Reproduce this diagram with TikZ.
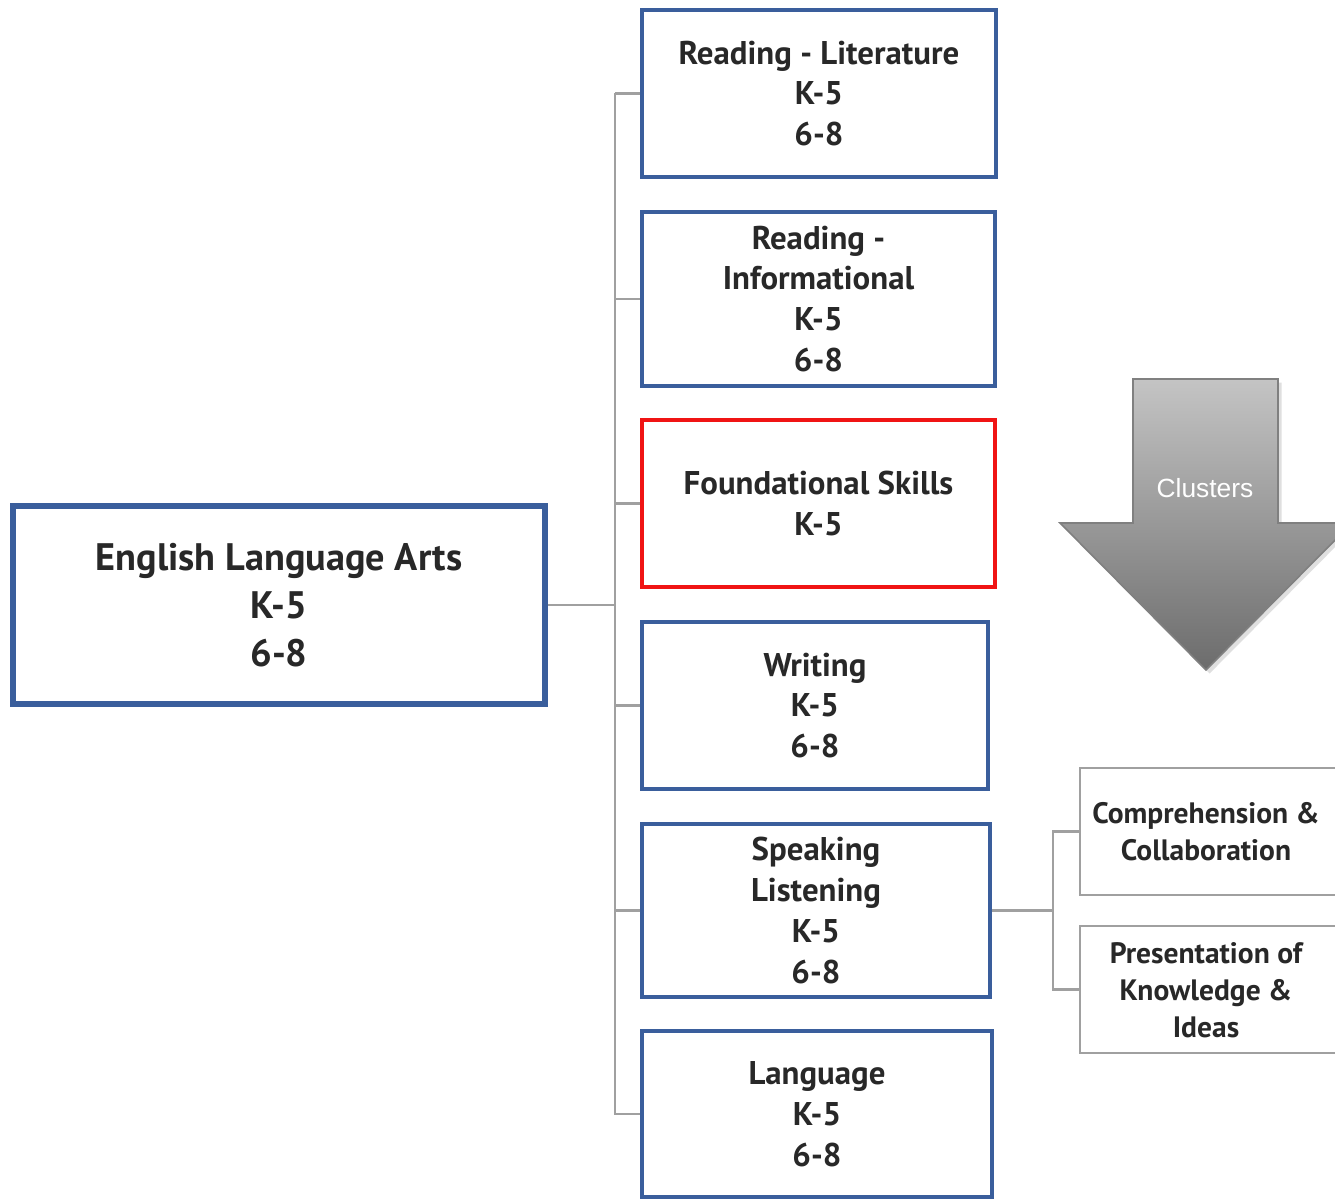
\documentclass[tikz,border=0pt]{standalone}
\usepackage{fontspec}
\setmainfont{PT Sans}
\newfontfamily\arialf{Liberation Sans}
\usetikzlibrary{shadows}
\definecolor{boxblue}{RGB}{58,94,156}
\definecolor{boxred}{RGB}{240,20,20}
\definecolor{conngray}{RGB}{160,160,160}
\definecolor{txtgray}{RGB}{40,40,40}
\definecolor{arrowtop}{RGB}{196,196,196}
\definecolor{arrowbot}{RGB}{108,108,108}
\definecolor{arrowedge}{RGB}{128,128,128}
\begin{document}
\begin{tikzpicture}[x=0.02cm,y=-0.02cm,
  mainbox/.style={draw=boxblue,line width=3.4pt,align=center,text=txtgray,
     font=\bfseries\fontsize{21.8}{27.5}\selectfont,minimum width=10.64cm,minimum height=3.96cm,inner sep=0pt},
  subbox/.style={draw=boxblue,line width=2.3pt,align=center,text=txtgray,
     font=\bfseries\fontsize{18.7}{23.3}\selectfont,minimum height=3.34cm,inner sep=0pt},
  redbox/.style={subbox,draw=boxred},
  clbox/.style={draw=conngray,line width=1.2pt,minimum width=5.3cm,minimum height=2.54cm,inner sep=0pt},
  cltext/.style={align=center,text=txtgray,font=\bfseries\fontsize{16.8}{21}\selectfont},
  conn/.style={draw=conngray,line width=1.2pt}]
\clip (0,0) rectangle (1335,1200);
\fill[white] (0,0) rectangle (1335,1200);

% main box
\node[mainbox] (ela) at (279,605) {English Language Arts\\K-5\\6-8};

% sub boxes
\node[subbox,minimum width=7.08cm] (rl) at (819,93.5) {Reading - Literature\\K-5\\6-8};
\node[subbox,minimum width=7.06cm,minimum height=3.48cm] (ri) at (818.5,299) {Reading -\\Informational\\K-5\\6-8};
\node[redbox,minimum width=7.06cm] (fs) at (818.5,503.5) {Foundational Skills\\K-5};
\node[subbox,minimum width=6.92cm] (wr) at (815,705.5) {Writing\\K-5\\6-8};
\node[subbox,minimum width=6.96cm,minimum height=3.46cm] (sl) at (816,910.5) {Speaking\\Listening\\K-5\\6-8};
\node[subbox,minimum width=7.0cm,minimum height=3.32cm] (la) at (817,1114) {Language\\K-5\\6-8};

% cluster boxes
\node[clbox] (cc) at (1212.5,831.5) {};
\node[cltext] (cct) at (1206,831.5) {Comprehension \&\\Collaboration};
\node[clbox] (pk) at (1212.5,989.5) {};
\node[cltext] (pkt) at (1206,990) {Presentation of\\Knowledge \&\\Ideas};

% connectors
\coordinate (ttop) at (615,93);
\coordinate (tbot) at (615,1115);
\draw[conn] (ttop) -- (tbot);
\draw[conn] (ela.east) -- (ela.east -| ttop);
\foreach \n in {rl,ri,fs,wr,sl,la}{
  \draw[conn] (\n.west) -- (\n.west -| ttop);
}
\coordinate (rtrunk) at (1053,910.5);
\draw[conn] (sl.east) -- (rtrunk);
\draw[conn] (rtrunk) |- (cc.west);
\draw[conn] (rtrunk) |- (pk.west);

% arrow
\shade[top color=arrowtop,bottom color=arrowbot,draw=arrowedge,line width=0.9pt,
  drop shadow={opacity=0.25,shadow xshift=2pt,shadow yshift=-2pt}]
  (1133,379) -- (1278,379) -- (1278,523) -- (1352,523) -- (1206,670) -- (1060,523) -- (1133,523) -- cycle;
\node[text=white,font=\arialf\fontsize{15}{18}\selectfont] (clusters) at (1205,488) {Clusters};
\end{tikzpicture}
\end{document}
